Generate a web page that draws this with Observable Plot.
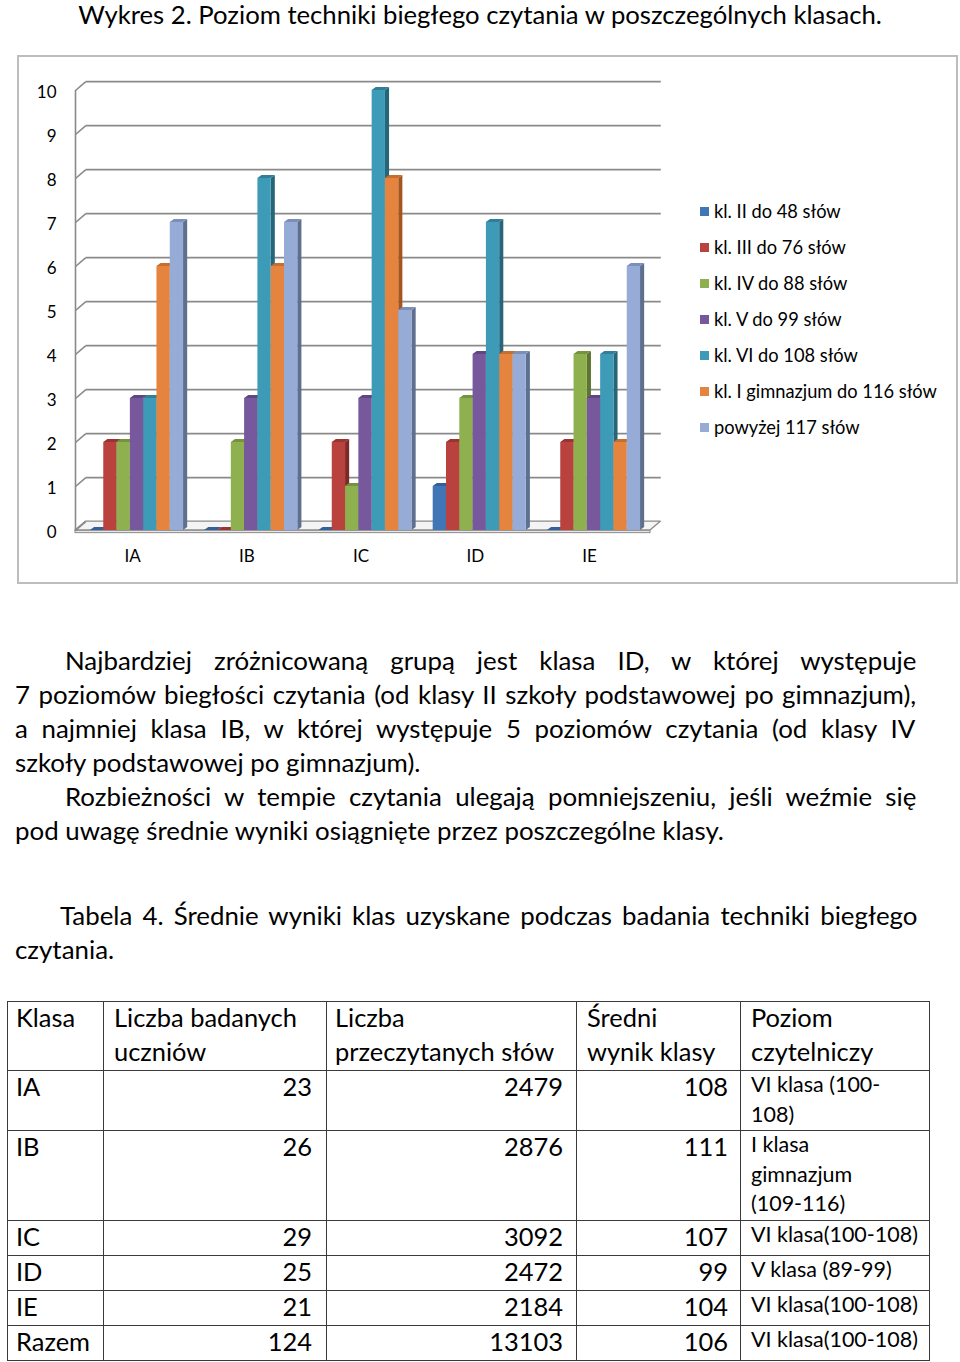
<!DOCTYPE html>
<html>
<head>
<meta charset="utf-8">
<script src="https://cdn.jsdelivr.net/npm/d3@7"></script>
<script src="https://cdn.jsdelivr.net/npm/@observablehq/plot@0.6"></script>
<style>
  body { margin: 0; background: #fff; font-family: Lato, "Open Sans", sans-serif; color: #000; }
  #page { position: relative; width: 960px; height: 1362px; overflow: hidden; }
  .abs { position: absolute; white-space: nowrap; }
  #title { left: 0; width: 960px; top: 1px; text-align: center; font-size: 24px; line-height: 26px; }
  #box { position: absolute; left: 17px; top: 55px; width: 941px; height: 529px; border: 2px solid #bdbdbd; box-sizing: border-box; background: #fff; }
  #chart { position: absolute; left: 0; top: 56px; }
  .leg { position: absolute; left: 714px; font-size: 17px; line-height: 20px; white-space: nowrap; }
  .sw { position: absolute; left: 700px; width: 9px; height: 9px; }
  .line { position: absolute; font-size: 22px; line-height: 34px; height: 34px; white-space: nowrap; }
  #tbl { position: absolute; left: 7px; top: 1001px; border-collapse: collapse; table-layout: fixed; }
  #tbl td { border: 1.5px solid #3a3a3a; vertical-align: top; padding: 0; font-size: 22px; line-height: 34px; white-space: nowrap; overflow: hidden; }
  #tbl td > span { display: block; position: relative; top: -2px; }
  #tbl td.num { text-align: right; }
  #tbl td.lvl { font-size: 19px; line-height: 29.5px; padding-left: 10px; }
  #tbl td.lvl > span { top: -1px; }
</style>
</head>
<body>
<div id="page">
  <div id="title" class="abs">Wykres 2. Poziom techniki biegłego czytania w poszczególnych klasach.</div>
  <div id="box"></div>
  <div id="chart"></div>
  <div id="legend"></div>
  <div id="text"></div>
  <table id="tbl">
    <colgroup>
      <col style="width:96px"><col style="width:223px"><col style="width:250px"><col style="width:164px"><col style="width:189px">
    </colgroup>
    <tbody id="tbody"></tbody>
  </table>
</div>
<script>
// ---------- DATA ----------
const categories = ["IA", "IB", "IC", "ID", "IE"];
const series = ["kl. II do 48 słów", "kl. III do 76 słów", "kl. IV do 88 słów", "kl. V do 99 słów", "kl. VI do 108 słów", "kl. I gimnazjum do 116 słów", "powyżej 117 słów"];
const klII  = [0, 0, 0, 1, 0];
const klIII = [2, 0, 2, 2, 2];
const klIV  = [2, 2, 1, 3, 4];
const klV   = [3, 3, 3, 4, 3];
const klVI  = [3, 8, 10, 7, 4];
const klIGim = [6, 6, 8, 4, 2];
const powyzej = [7, 7, 5, 4, 6];
const yTicks = [0, 1, 2, 3, 4, 5, 6, 7, 8, 9, 10];

const tableHeader = ["Klasa", "Liczba badanych<br>uczniów", "Liczba<br>przeczytanych słów", "Średni<br>wynik klasy", "Poziom<br>czytelniczy"];
const tableClasses = ["IA", "IB", "IC", "ID", "IE", "Razem"];
const tableStudents = [23, 26, 29, 25, 21, 124];
const tableWords = [2479, 2876, 3092, 2472, 2184, 13103];
const tableMean = [108, 111, 107, 99, 104, 106];
const tableLevel = ["VI klasa (100-<br>108)", "I klasa<br>gimnazjum<br>(109-116)", "VI klasa(100-108)", "V klasa (89-99)", "VI klasa(100-108)", "VI klasa(100-108)"];

const paragraphLines = [
  "Najbardziej zróżnicowaną grupą jest klasa ID, w której występuje",
  "7 poziomów biegłości czytania (od klasy II szkoły podstawowej po gimnazjum),",
  "a najmniej klasa IB, w której występuje 5 poziomów czytania (od klasy IV",
  "szkoły podstawowej po gimnazjum).",
  "Rozbieżności w tempie czytania ulegają pomniejszeniu, jeśli weźmie się",
  "pod uwagę średnie wyniki osiągnięte przez poszczególne klasy.",
  "Tabela 4. Średnie wyniki klas uzyskane podczas badania techniki biegłego",
  "czytania."
];

// ---------- STYLE ----------
const frontColors = ["#4275b6", "#b9423f", "#8fb04f", "#77589c", "#3d9bb7", "#e5843e", "#97abd7"];
const topColors   = ["#33609a", "#9a3431", "#76923e", "#5f4680", "#307f97", "#c76d2e", "#7b8fb9"];
const sideColors  = ["#2b4f80", "#7c2a28", "#5d7432", "#4b3765", "#276679", "#a4561f", "#5f6f8f"];
const GRID = "#8a8a8a";

// geometry in data units (x unit = one category step, y unit = one level)
const XMAX = 5.033, OFF = 0.131, BW = 0.1164;
const SD_X = 0.036, SD_Y = 0.07;     // bar depth
const WALL_X = 0.09, WALL_Y = 0.2;   // wall depth
const FLOOR_T = 0.06;

const valuesBySeries = [klII, klIII, klIV, klV, klVI, klIGim, powyzej];
const bx1 = r => r.i + OFF + r.j * BW;
const bx2 = r => bx1(r) + BW;

const bars = valuesBySeries.flatMap((vals, j) => {
  const rowsJ = vals.map((v, i) => ({i, j, v, cat: categories[i], series: series[j]}));
  const side = rowsJ.flatMap(r => [
    {id: r.i, x: bx2(r), y1: 0, y2: r.v},
    {id: r.i, x: bx2(r) + SD_X, y1: SD_Y, y2: r.v + SD_Y}
  ]);
  const top = rowsJ.flatMap(r => [
    {id: r.i, x: bx1(r), y1: r.v, y2: r.v},
    {id: r.i, x: bx1(r) + SD_X, y1: r.v, y2: r.v + SD_Y},
    {id: r.i, x: bx2(r), y1: r.v, y2: r.v + SD_Y},
    {id: r.i, x: bx2(r) + SD_X, y1: r.v + SD_Y, y2: r.v + SD_Y}
  ]);
  return [
    Plot.area(side, {x1: "x", y1: "y1", y2: "y2", z: "id", fill: sideColors[j]}),
    Plot.area(top, {x1: "x", y1: "y1", y2: "y2", z: "id", fill: topColors[j]}),
    Plot.rect(rowsJ, {x1: bx1, x2: bx2, y1: 0, y2: "v", fill: frontColors[j]})
  ];
});

const floorPts = [
  {x: 0, y1: 0, y2: 0},
  {x: WALL_X, y1: 0, y2: WALL_Y},
  {x: XMAX, y1: 0, y2: WALL_Y},
  {x: XMAX + WALL_X, y1: WALL_Y, y2: WALL_Y}
];

const chart = Plot.plot({
  width: 960,
  height: 526,
  marginLeft: 75,
  marginRight: 310,
  marginTop: 34,
  marginBottom: 52,
  style: {fontFamily: "Lato, sans-serif", fontSize: "17px", background: "transparent", overflow: "visible", color: "#000"},
  x: {domain: [0, XMAX], axis: null},
  y: {domain: [0, 10], axis: null},
  marks: [
    Plot.rect([0], {x1: 0, x2: XMAX, y1: 0, y2: -FLOOR_T, fill: "#e6e6e6", stroke: GRID, strokeWidth: 1}),
    Plot.area(floorPts, {x1: "x", y1: "y1", y2: "y2", fill: "#f4f4f4", stroke: GRID, strokeWidth: 1.3}),
    Plot.link(yTicks, {x1: 0, y1: d => d, x2: WALL_X, y2: d => d + WALL_Y, stroke: GRID, strokeWidth: 1.6}),
    Plot.link(yTicks.filter(d => d > 0), {x1: WALL_X, x2: XMAX + WALL_X, y1: d => d + WALL_Y, y2: d => d + WALL_Y, stroke: GRID, strokeWidth: 1.8}),
    Plot.ruleX([0], {y1: 0, y2: 10, stroke: GRID, strokeWidth: 1.6}),
    ...bars,
    Plot.axisY(yTicks, {tickSize: 0, tickPadding: 19, dy: 2, label: null, tickFormat: d => String(d), fill: "#000"}),
    Plot.text(categories, {x: (d, i) => i + 0.5, y: 0, dy: 26, text: d => d, fill: "#000"})
  ]
});
document.getElementById("chart").appendChild(chart);

// legend
const legend = document.getElementById("legend");
series.forEach((s, k) => {
  const c = 211 + 36 * k;
  const sw = document.createElement("div");
  sw.className = "sw";
  sw.style.top = (c - 4.5) + "px";
  sw.style.background = frontColors[k];
  legend.appendChild(sw);
  const t = document.createElement("div");
  t.className = "leg";
  t.style.top = (c - 10) + "px";
  t.textContent = s;
  legend.appendChild(t);
});

// text lines: [index, left, center y, justify]
const layout = [
  [0, 65, 661, true], [1, 15, 695, true], [2, 15, 729, true], [3, 15, 763, false],
  [4, 65, 797, true], [5, 15, 831, false], [6, 60, 916, true], [7, 15, 950, false]
];
const textDiv = document.getElementById("text");
const lineEls = layout.map(([k, left, cy, just]) => {
  const d = document.createElement("div");
  d.className = "line";
  d.style.left = left + "px";
  d.style.top = (cy - 18) + "px";
  d.textContent = paragraphLines[k];
  d.dataset.just = just ? (918 - left) : "";
  textDiv.appendChild(d);
  return d;
});

// table
const tbody = document.getElementById("tbody");
const rowHeights = [69, 58, 88, 34, 34, 34, 33];
const pads = ["padding-left:8px", "padding-left:10px", "padding-left:8px", "padding-left:10px", "padding-left:10px"];
let html = `<tr style="height:${rowHeights[0]}px">` + tableHeader.map((h, c) => `<td style="${pads[c]}"><span>${h}</span></td>`).join("") + "</tr>";
tableClasses.forEach((k, r) => {
  html += `<tr style="height:${rowHeights[r + 1]}px">`
    + `<td style="padding-left:8px"><span>${k}</span></td>`
    + `<td class="num" style="padding-right:14px"><span>${tableStudents[r]}</span></td>`
    + `<td class="num" style="padding-right:13px"><span>${tableWords[r]}</span></td>`
    + `<td class="num" style="padding-right:12px"><span>${tableMean[r]}</span></td>`
    + `<td class="lvl"><span>${tableLevel[r]}</span></td></tr>`;
});
tbody.innerHTML = html;

// font fitting to match reference text widths
const ctx = document.createElement("canvas").getContext("2d");
function mw(text, fs) { ctx.font = `${fs}px Lato`; return ctx.measureText(text).width; }
function fit() {
  const tfs = 24 * 805 / mw("Wykres 2. Poziom techniki biegłego czytania w poszczególnych klasach.", 24);
  document.getElementById("title").style.fontSize = tfs + "px";
  const pfs = 22 * 710 / mw(paragraphLines[5], 22);
  lineEls.forEach(el => {
    el.style.fontSize = pfs + "px";
    const target = +el.dataset.just;
    if (target) {
      const w = mw(el.textContent, pfs);
      const n = (el.textContent.match(/ /g) || []).length;
      el.style.wordSpacing = ((target - w) / n) + "px";
    }
  });
  const lfs = 17 * 223 / mw(series[5], 17);
  document.querySelectorAll(".leg").forEach(e => e.style.fontSize = lfs + "px");
  const mfs = 22 * 183 / mw("Liczba badanych", 22);
  const sfs = 19 * 167 / mw("VI klasa(100-108)", 19);
  document.querySelectorAll("#tbl td").forEach(td => {
    td.style.fontSize = (td.classList.contains("lvl") ? sfs : mfs) + "px";
  });
}
fit();
if (document.fonts && document.fonts.ready) document.fonts.ready.then(fit);
</script>
</body>
</html>
